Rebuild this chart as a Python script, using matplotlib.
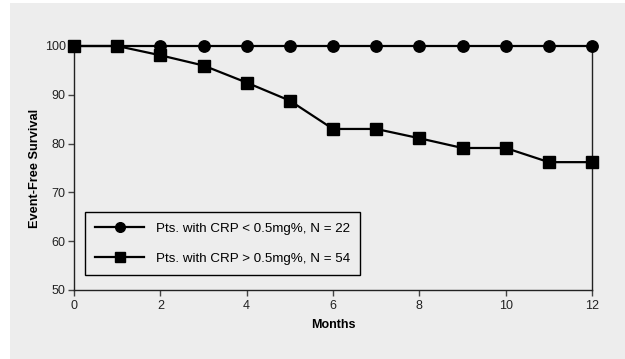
import numpy as np
import matplotlib.pyplot as plt
from matplotlib.patches import Rectangle

plt.rcParams['font.family'] = ['Liberation Sans', 'DejaVu Sans']

months = [0, 1, 2, 3, 4, 5, 6, 7, 8, 9, 10, 11, 12]
low_crp = [100, 100, 100, 100, 100, 100, 100, 100, 100, 100, 100, 100, 100]
high_crp = [100, 100, 98.1, 96.0, 92.5, 88.8, 83.0, 83.0, 81.1, 79.1, 79.1, 76.2, 76.2]
low_label = 'Pts. with CRP < 0.5mg%, N = 22'
high_label = 'Pts. with CRP > 0.5mg%, N = 54'
x_ticks = [0, 2, 4, 6, 8, 10, 12]
y_ticks = [50, 60, 70, 80, 90, 100]

BG = '#ededed'


def main():
    fig = plt.figure(figsize=(6.25, 3.59), dpi=100, facecolor='white')
    # gray panel behind everything
    fig.add_artist(Rectangle((10 / 625, 0), 1, 1 - 3 / 359, transform=fig.transFigure,
                             facecolor=BG, edgecolor='none', zorder=-10))

    ax = fig.add_axes([74 / 625, 1 - 290 / 359, 518 / 625, 244 / 359])
    ax.set_zorder(2)
    ax.set_facecolor(BG)

    ax.plot(months, low_crp, color='black', lw=1.6, marker='o', markersize=8.2,
            label=low_label, clip_on=False, zorder=4)
    ax.plot(months, high_crp, color='black', lw=1.6, marker='s', markersize=8.8,
            label=high_label, clip_on=False, zorder=3)

    ax.set_xlim(0, 12)
    ax.set_ylim(50, 100)
    ax.set_xticks(x_ticks)
    ax.set_yticks(y_ticks)
    ax.spines['top'].set_visible(False)
    for s in ['left', 'bottom', 'right']:
        ax.spines[s].set_color('#222222')
        ax.spines[s].set_linewidth(1.0)
    ax.tick_params(direction='out', length=4, width=1, color='#444444',
                   labelsize=9, labelcolor='#222222', right=False)
    ax.tick_params(axis='y', pad=2)

    ax.set_xlabel('Months', fontsize=9, fontweight='bold', labelpad=5)
    ax.set_ylabel('Event-Free Survival', fontsize=9.2, fontweight='bold', labelpad=3)

    leg = ax.legend(loc='lower left', bbox_to_anchor=(0.0212, 0.0615), fontsize=9.6,
                    handlelength=3.7, labelspacing=1.35, borderpad=0.75,
                    handletextpad=0.85, borderaxespad=0, fancybox=False, framealpha=1,
                    facecolor=BG, edgecolor='black', markerscale=0.85)
    leg.get_frame().set_linewidth(1.0)

    fig.savefig('out.png', dpi=100, facecolor='white')


if __name__ == "__main__":
    main()
